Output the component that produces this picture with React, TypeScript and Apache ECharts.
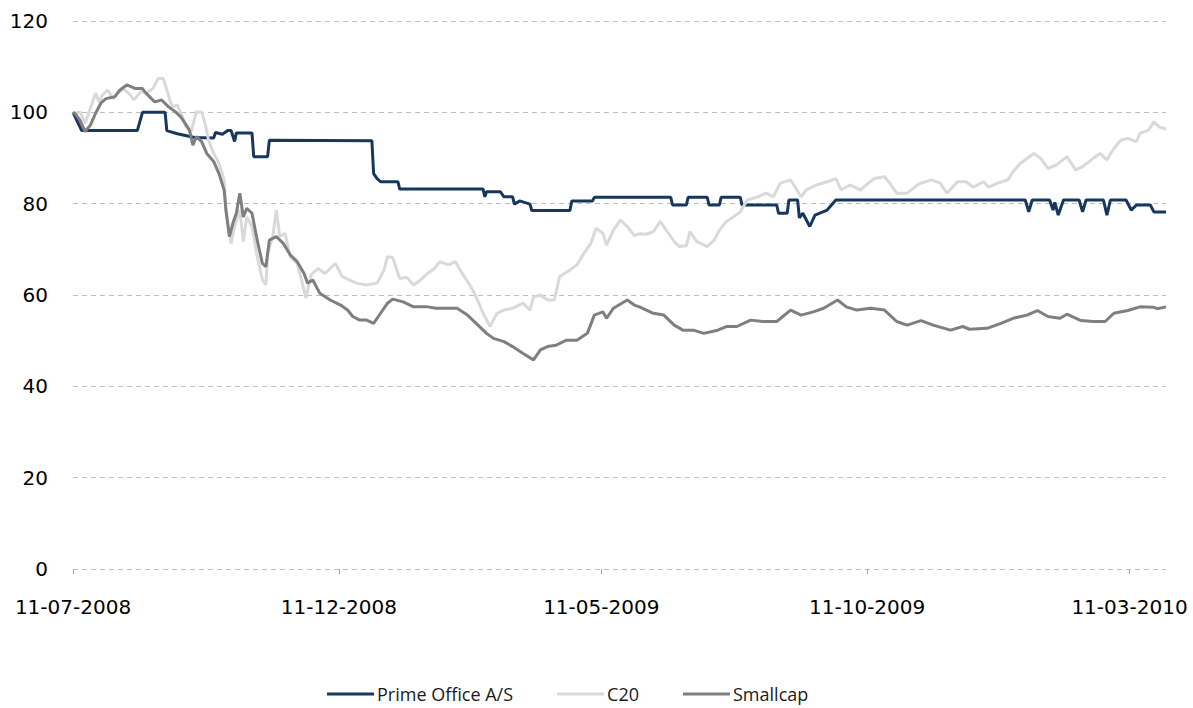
import React, { useEffect, useRef } from "react";
import * as echarts from "echarts";

// x values are days counted from 11-07-2008
const START_UTC = Date.UTC(2008, 6, 11);
const xTickDays = [0, 153, 304, 457, 608];
const xMaxDay = 629;
const yMin = 0;
const yMax = 120;
const yInterval = 20;

const seriesNames = ["Prime Office A/S", "C20", "Smallcap"];
const seriesColors = ["#17375e", "#d9d9d9", "#7f7f7f"];

const primeOffice: [number, number][] = [
  [0, 100], [5, 96], [37, 96], [40, 100], [53, 100], [54, 96], [60, 95.3], [70, 94.5],
  [81, 94.4], [82, 95.6], [86, 95.2], [89, 96], [91, 96], [93, 93.6], [94, 95.5], [103, 95.5],
  [104, 90.3], [112, 90.3], [113, 93.9], [172, 93.8], [173, 86.6], [175, 85.5], [177, 84.8],
  [187, 84.8], [188, 83.2], [236, 83.2], [237, 81.5], [238, 82.6], [246, 82.6], [248, 81.5],
  [253, 81.5], [254, 79.9], [257, 80.6], [263, 79.9], [264, 78.5], [286, 78.5], [287, 80.6],
  [299, 80.6], [300, 81.4], [344, 81.4], [345, 79.7], [353, 79.7], [354, 81.4], [365, 81.4],
  [366, 79.7], [372, 79.7], [373, 81.4], [384, 81.4], [385, 79.7], [405, 79.7], [406, 77.9],
  [411, 77.9], [412, 80.8], [417, 80.8], [418, 76.9], [420, 77.9], [424, 75], [427, 77.5],
  [434, 78.6], [439, 80.8], [548, 80.8], [550, 78.2], [552, 80.8], [562, 80.8], [564, 78.6],
  [565, 80.3], [567, 77.5], [570, 80.8], [579, 80.8], [581, 78.2], [583, 80.8], [593, 80.8],
  [595, 77.5], [597, 80.8], [606, 80.8], [609, 78.6], [612, 79.7], [620, 79.7], [622, 78.2],
  [629, 78.2],
];

const c20: [number, number][] = [
  [0, 100], [1, 99.8], [4, 100.1], [7, 97.6], [10, 100.9], [13, 104.2], [15, 102.3], [17, 103.8],
  [20, 104.9], [23, 103], [26, 104.2], [29, 105.2], [33, 103.8], [35, 102.7], [39, 104.5],
  [42, 104.2], [46, 105.2], [49, 107.4], [52, 107.4], [54, 104.9], [57, 101.2], [60, 101.6],
  [63, 99], [65, 96.8], [68, 95.8], [71, 100.1], [74, 100.1], [76, 97.6], [78, 93.9], [81, 91],
  [84, 88.8], [87, 85.2], [88, 78.6], [91, 71.3], [93, 75], [96, 78.6], [98, 71.7], [100, 77.1],
  [103, 75], [106, 68.4], [109, 63.3], [111, 62.2], [112, 69.1], [115, 72.8], [117, 78.6],
  [119, 72.8], [122, 73.5], [125, 68.4], [129, 66.9], [132, 62.6], [134, 59.3], [137, 64.4],
  [141, 65.8], [145, 64.7], [151, 66.9], [155, 64], [159, 63.3], [163, 62.6], [169, 62.2],
  [175, 62.6], [179, 65.5], [181, 68.4], [184, 68.2], [188, 63.6], [192, 63.9], [196, 62.2],
  [200, 63.3], [204, 64.7], [208, 65.8], [211, 67.3], [216, 66.6], [220, 67.3], [224, 64.7],
  [229, 61.8], [232, 59.6], [236, 56], [240, 53.1], [244, 56], [248, 56.7], [253, 57.1],
  [259, 58.2], [263, 56.7], [265, 59.6], [269, 60], [273, 58.9], [277, 58.9], [280, 64],
  [286, 65.5], [290, 66.6], [294, 69.1], [298, 71.3], [301, 74.6], [305, 73.5], [307, 70.9],
  [311, 74.2], [315, 76.4], [319, 75], [323, 73], [326, 73.4], [330, 73.3], [334, 73.9],
  [338, 76.1], [342, 73.9], [346, 71.7], [349, 70.6], [353, 70.8], [355, 73.9], [359, 71.7],
  [365, 70.6], [369, 72], [372, 74.2], [376, 76.1], [380, 77.1], [384, 78.2], [388, 80.8],
  [394, 81.5], [399, 82.3], [403, 81.5], [407, 84.5], [413, 85.2], [419, 81.5], [422, 83],
  [428, 84.1], [434, 84.8], [439, 85.5], [442, 83], [447, 84.1], [453, 83], [461, 85.5],
  [467, 85.9], [470, 84.5], [474, 82.3], [480, 82.3], [486, 84.1], [488, 84.5], [494, 85.2],
  [499, 84.5], [503, 82.3], [509, 84.8], [514, 84.8], [518, 83.6], [524, 84.8], [527, 83.6],
  [532, 84.5], [538, 85.2], [541, 87], [545, 88.8], [549, 89.9], [553, 91], [557, 89.9],
  [561, 87.7], [566, 88.5], [572, 90.3], [577, 87.4], [581, 88.1], [586, 89.6], [591, 91],
  [595, 89.6], [599, 92.1], [603, 93.9], [607, 94.3], [612, 93.6], [614, 95.4], [619, 96.1],
  [622, 97.9], [625, 96.8], [629, 96.3],
];

const smallcap: [number, number][] = [
  [0, 100], [1, 99.8], [4, 98.3], [7, 95.8], [10, 97.2], [13, 99.8], [16, 102], [19, 103],
  [24, 103.4], [27, 104.9], [31, 106], [36, 105.2], [40, 105.2], [42, 104.2], [47, 102.3],
  [51, 102.7], [55, 101.2], [59, 100.1], [62, 99], [64, 97.9], [67, 96.1], [69, 92.8],
  [71, 94.7], [74, 93.6], [77, 91], [81, 89.2], [84, 86.6], [87, 82.9], [88, 78.6], [90, 72.8],
  [92, 75.7], [94, 77.9], [96, 82.3], [98, 77.1], [100, 79], [103, 77.9], [106, 72], [109, 66.9],
  [111, 66.2], [113, 72], [117, 72.8], [121, 71.3], [125, 68.8], [129, 67.3], [133, 64.7],
  [135, 62.6], [138, 63.3], [142, 60.4], [148, 58.9], [154, 57.8], [158, 56.7], [161, 55.3],
  [165, 54.5], [169, 54.5], [173, 53.8], [177, 56], [181, 58.2], [184, 59.1], [190, 58.5],
  [196, 57.4], [204, 57.4], [209, 57.1], [215, 57.1], [221, 57.1], [227, 55.6], [232, 53.8],
  [238, 51.6], [242, 50.5], [248, 49.8], [253, 48.7], [259, 47.2], [265, 45.8], [269, 48],
  [273, 48.7], [278, 49], [284, 50.1], [290, 50.1], [296, 51.6], [300, 55.6], [305, 56.3],
  [307, 54.9], [311, 57.1], [319, 58.9], [323, 57.8], [326, 57.4], [334, 56], [340, 55.6],
  [346, 53.4], [351, 52.3], [357, 52.3], [363, 51.6], [371, 52.3], [376, 53.1], [382, 53.1],
  [390, 54.5], [397, 54.2], [405, 54.2], [413, 56.7], [419, 55.6], [426, 56.3], [432, 57.1],
  [440, 58.9], [445, 57.4], [451, 56.7], [459, 57.1], [467, 56.7], [474, 54.2], [480, 53.4],
  [488, 54.4], [495, 53.4], [505, 52.3], [512, 53.1], [516, 52.5], [526, 52.7], [534, 53.8],
  [541, 54.9], [549, 55.6], [555, 56.6], [561, 55.3], [568, 54.9], [572, 55.8], [580, 54.4],
  [587, 54.2], [594, 54.2], [599, 56], [607, 56.6], [614, 57.4], [622, 57.3], [624, 57],
  [629, 57.4],
];

const seriesData = [primeOffice, c20, smallcap];

function formatDay(day: number): string {
  const d = new Date(START_UTC + Math.round(day) * 86400000);
  const dd = String(d.getUTCDate()).padStart(2, "0");
  const mm = String(d.getUTCMonth() + 1).padStart(2, "0");
  return `${dd}-${mm}-${d.getUTCFullYear()}`;
}

export default function App() {
  const ref = useRef<HTMLDivElement>(null);

  useEffect(() => {
    if (!ref.current) return;
    const chart = echarts.init(ref.current, null, { renderer: "svg" });
    chart.setOption({
      animation: false,
      backgroundColor: "#ffffff",
      grid: { left: 73, right: 27, top: 21, bottom: 139, containLabel: false },
      legend: {
        data: seriesNames,
        left: 322,
        top: 680,
        icon: "rect",
        itemWidth: 47,
        itemHeight: 3,
        itemGap: 44,
        textStyle: { fontFamily: "Open Sans", fontSize: 18, color: "#1a1a1a", padding: [0, 0, 0, -2] },
      },
      xAxis: {
        type: "value",
        min: 0,
        max: xMaxDay,
        axisLine: { show: false },
        splitLine: { show: false },
        axisTick: {
          show: true,
          customValues: xTickDays,
          length: 5,
          lineStyle: { color: "#a6a6a6", width: 1 },
        },
        axisLabel: {
          customValues: xTickDays,
          formatter: (v: number) => formatDay(v),
          fontFamily: "DejaVu Sans",
          fontSize: 20,
          color: "#000000",
          margin: 28,
        },
      },
      yAxis: {
        type: "value",
        min: yMin,
        max: yMax,
        interval: yInterval,
        axisLine: { show: false },
        axisTick: { show: false },
        splitLine: { show: true, lineStyle: { color: "#bdbdbd", type: [5, 4], width: 1 } },
        axisLabel: {
          fontFamily: "DejaVu Sans",
          fontSize: 20,
          color: "#000000",
          margin: 25,
        },
      },
      series: seriesNames.map((name, i) => ({
        name,
        type: "line",
        data: seriesData[i],
        showSymbol: false,
        symbol: "none",
        lineStyle: { color: seriesColors[i], width: 3 },
        itemStyle: { color: seriesColors[i] },
        emphasis: { disabled: true },
      })),
    });
    return () => chart.dispose();
  }, []);

  return (
    <div
      ref={ref}
      style={{ position: "absolute", left: 0, top: 0, width: 1193, height: 708 }}
    />
  );
}
